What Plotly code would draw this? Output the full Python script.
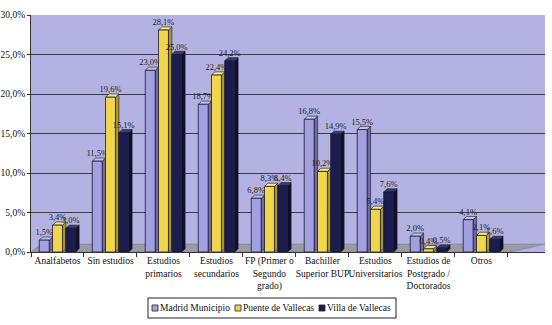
import plotly.graph_objects as go

categories = ["Analfabetos", "Sin estudios", "Estudios<br>primarios", "Estudios<br>secundarios",
              "FP (Primer o<br>Segundo<br>grado)", "Bachiller<br>Superior BUP", "Estudios<br>Universitarios",
              "Estudios de<br>Postgrado /<br>Doctorados", "Otros"]
madrid = [1.5, 11.5, 23.0, 18.7, 6.8, 16.8, 15.5, 2.0, 4.1]
puente = [3.4, 19.6, 28.1, 22.4, 8.3, 10.2, 5.4, 0.4, 2.1]
villa = [3.0, 15.1, 25.0, 24.2, 8.4, 14.9, 7.6, 0.5, 1.6]
series_names = ["Madrid Municipio", "Puente de Vallecas", "Villa de Vallecas"]

colors = ["#a3a0e2", "#efd64c", "#1c1c4e"]
side_colors = ["#6e6ca8", "#a8952c", "#0e0e2c"]
top_colors = ["#c4c2f0", "#f7e88a", "#3a3a70"]

font = "Liberation Serif"
BARGAP, GROUPGAP = 0.25, 0.25
slot = (1 - BARGAP) / 3
bw = slot * (1 - GROUPGAP)
dx, dy = 0.065, 0.4

fig = go.Figure()
shapes = []
# floor
shapes.append(dict(type="path", path="M -0.5,0 L 8.55,0 L 9.2,1.0 L -0.3,1.0 Z",
                   fillcolor="#9c9aa6", line=dict(color="#777", width=0.5), layer="between"))

for s, (name, vals) in enumerate(zip(series_names, [madrid, puente, villa])):
    xs = list(range(len(categories)))
    fig.add_trace(go.Bar(
        x=xs, y=vals, name=name,
        marker=dict(color=colors[s], line=dict(color="#1a1a2a", width=0.8)),
        text=vals, texttemplate="%{y:.1f}%", textposition="outside",
        textfont=dict(family=font, size=8.5, color="#222"),
        constraintext="none", cliponaxis=False, showlegend=False,
    ))
    for c, v in zip(xs, vals):
        cx = c + (s - 1) * slot
        L, R = cx - bw / 2, cx + bw / 2
        shapes.append(dict(type="path",
                           path=f"M {R},0 L {R+dx},{dy} L {R+dx},{v+dy} L {R},{v} Z",
                           fillcolor=side_colors[s], line=dict(color="#1a1a2a", width=0.6), layer="between"))
        shapes.append(dict(type="path",
                           path=f"M {L},{v} L {L+dx},{v+dy} L {R+dx},{v+dy} L {R},{v} Z",
                           fillcolor=top_colors[s], line=dict(color="#1a1a2a", width=0.6), layer="between"))

# custom legend (paper coords: plot area x 31..545, y 15..252)
def px(x):
    return (x - 31) / 514
def py(y):
    return (252 - y) / 237

shapes.append(dict(type="rect", xref="paper", yref="paper",
                   x0=px(148), x1=px(396), y0=py(298), y1=py(318),
                   line=dict(color="#222", width=1), fillcolor="white"))
leg_x = [152, 235, 319]
annotations = []
for i, name in enumerate(series_names):
    shapes.append(dict(type="rect", xref="paper", yref="paper",
                       x0=px(leg_x[i]), x1=px(leg_x[i] + 6), y0=py(311), y1=py(305),
                       fillcolor=colors[i], line=dict(color="#222", width=0.8)))
    annotations.append(dict(xref="paper", yref="paper", x=px(leg_x[i] + 6), y=py(308),
                            xanchor="left", yanchor="middle", text=name, showarrow=False,
                            font=dict(family=font, size=9.5, color="#111")))

fig.update_layout(
    width=552, height=325,
    margin=dict(l=31, r=7, t=15, b=73),
    separators=",.",
    barmode="group", bargap=BARGAP, bargroupgap=GROUPGAP,
    plot_bgcolor="#b4b2e2", paper_bgcolor="white",
    font=dict(family=font, size=10, color="#111"),
    showlegend=False,
    shapes=shapes, annotations=annotations,
)
fig.update_xaxes(
    tickmode="array", tickvals=list(range(len(categories))), ticktext=categories,
    range=[-0.5, 9.2], showgrid=False, showline=True, linecolor="#333",
    tickfont=dict(family=font, size=9.5, color="#111"), ticks="", tickangle=0,
    automargin=False,
    minor=dict(tickmode="array", tickvals=[i - 0.5 for i in range(len(categories) + 1)],
               ticks="outside", ticklen=4, tickcolor="#333", showgrid=False),
)
fig.update_yaxes(
    range=[0, 30], dtick=5, tickformat=".1f", ticksuffix="%",
    showgrid=True, gridcolor="#3a3a4a", gridwidth=1,
    showline=True, linecolor="#333", ticks="outside", ticklen=3, tickcolor="#333",
    tickfont=dict(family=font, size=9.5, color="#111"), zeroline=False, automargin=False,
)
fig.write_html("out.html")
